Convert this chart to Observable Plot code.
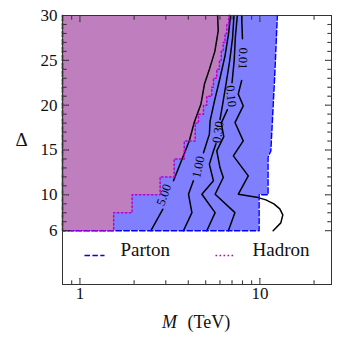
<!DOCTYPE html>
<html><head><meta charset="utf-8">
<script src="https://cdn.jsdelivr.net/npm/d3@7"></script>
<script src="https://cdn.jsdelivr.net/npm/@observablehq/plot@0.6"></script>
<style>
body{margin:0;background:#fff;}
#wrap{width:339px;height:346px;}
</style></head><body><div id="wrap"></div>
<script>
// ---- axis ticks ----
const xMajorTicks = [1, 10];
const xMinorTicks = [0.8, 0.9, 2, 3, 4, 5, 6, 7, 8, 9, 20];
const yMajorTicks = [6, 10, 15, 20, 25, 30];
const yMinorTicks = [7,8,9,11,12,13,14,16,17,18,19,21,22,23,24,26,27,28,29];

// ---- Parton region: right edge (M in TeV, Delta) ----
const partonEdgeM = [9.9, 9.9, 11.1, 11.1, 11.5, 12.1, 12.5];
const partonEdgeD = [6, 10, 10, 14.2, 14.9, 23.5, 30];

// ---- Hadron region: step edge, band lower Delta -> edge M ----
const hadronBandD = [6, 8, 10, 12, 14, 16, 18, 19, 20, 21, 22, 23, 24, 25, 26, 27, 28, 29];
const hadronBandM = [1.54, 1.95, 2.79, 3.34, 3.8, 4.37, 4.56, 4.86, 5.07, 5.4, 5.52, 5.76, 5.96, 6.1, 6.25, 6.4, 6.55, 6.7];
const hadronTopM = 6.82;

// ---- contour lines (NaN = gap for inline label) ----
const c500M = [2.48, 2.89, NaN, 3.31, 4.05, 4.32, 4.7, 4.92, 5.26, 5.62, 5.87, 5.82];
const c500D = [6, 8.4, NaN, 11.56, 16.0, 18.1, 20.1, 22.35, 24.1, 26, 28.3, 30];
const c100M = [3.76, 4.19, 4.01, 4.27, NaN, 4.86, 5.24, 5.29, 5.6, 6.0, 6.4, 6.7, 6.87];
const c100D = [6, 8.02, 10.07, 11.56, NaN, 14.7, 16.77, 18.25, 20.5, 23, 25.5, 28, 30];
const c030M = [5.07, 5.64, 4.76, 5.52, 5.24, 5.52, 5.7, NaN, 6.0, 6.2, 6.5, 6.8, 7.05, 7.18];
const c030D = [6, 8.02, 10.07, 11.56, 13.4, 14.9, 15.7, NaN, 18.4, 20, 22.5, 25, 27.5, 30];
const c010M = [6.68, 7.27, 5.64, 6.26, 6.0, 5.76, 6.3, 6.1, 6.6, NaN, 7.0, 7.2, 7.3, 7.49];
const c010D = [6, 8.02, 10.07, 11.93, 13.04, 14.9, 16.5, 18, 19.5, NaN, 22.5, 25, 27.5, 30];
const c001M = [11.85, 13.07, 13.41, 12.9, 11.96, 10.79, 9.79, 7.59, 8.62, 7.12, 8.08, 7.27, 8.08, 7.58, 7.92, NaN, 8.0, 7.92];
const c001D = [6, 6.87, 7.76, 8.43, 8.99, 9.44, 9.69, 10.07, 12.12, 14.35, 16.02, 18.06, 19.93, 21.23, 22.75, NaN, 27.4, 30];

const contourLabels = ["5.00", "1.00", "0.30", "0.10", "0.01"];
const labelM = [2.93, 4.55, 5.86, 6.91, 8.05];
const labelD = [10.0, 13.1, 17.0, 21.0, 25.2];
const labelAngle = [-70, -78, -82, 84, 92];

// ---- build tables ----
const xMin = 0.8;
const partonRows = partonEdgeM.map((m, i) => ({M: m, D: partonEdgeD[i]}));
const partonOutline = [{M: xMin, D: 30}, {M: xMin, D: 6}, ...partonRows];
const hadronRows = [];
hadronBandD.forEach((d, i) => {
  const top = i + 1 < hadronBandD.length ? hadronBandD[i + 1] : 30;
  hadronRows.push({M: hadronBandM[i], D: d});
  hadronRows.push({M: hadronBandM[i], D: top});
});
hadronRows.push({M: hadronTopM, D: 30});
const hadronOutline = [{M: xMin, D: 30}, {M: xMin, D: 6}, ...hadronRows];

const contours = [];
[[c500M, c500D, "5.00"], [c100M, c100D, "1.00"], [c030M, c030D, "0.30"], [c010M, c010D, "0.10"], [c001M, c001D, "0.01"]]
  .forEach(([ms, ds, lev]) => ms.forEach((m, i) => contours.push({M: m, D: ds[i], level: lev})));
const labels = contourLabels.map((t, i) => ({t, M: labelM[i], D: labelD[i], a: labelAngle[i]}));

const serif = "'Liberation Serif', 'Times New Roman', serif";
const axisColor = "#333";
const tick = (data, opts) => Plot.vector(data, {anchor: "start", r: 0, stroke: axisColor, strokeWidth: 1, ...opts});

const chart = Plot.plot({
  width: 339, height: 346,
  marginLeft: 62, marginRight: 8, marginTop: 15, marginBottom: 62,
  x: {type: "log", domain: [xMin, 25], axis: null},
  y: {domain: [0, 30], axis: null},
  style: {fontFamily: serif, background: "white", color: "#222"},
  marks: [
    Plot.areaX(partonRows, {y: "D", x1: xMin, x2: "M", fill: "#8080ff", curve: "linear"}),
    Plot.areaX(hadronRows, {y: "D", x1: xMin, x2: "M", fill: "#bf7fbf", curve: "linear"}),
    Plot.line(contours, {x: "M", y: "D", z: "level", stroke: "black", strokeWidth: 1.5, curve: "linear"}),
    Plot.text(labels, {x: "M", y: "D", text: "t", rotate: "a", fontSize: 12.5, fill: "black", fontFamily: serif}),
    Plot.line(partonOutline, {x: "M", y: "D", stroke: "#0000ff", strokeWidth: 1.5, strokeDasharray: "5.5,2.4"}),
    Plot.line(hadronOutline, {x: "M", y: "D", stroke: "#bf00bf", strokeWidth: 1.5, strokeDasharray: "1.5,2.5"}),
    Plot.frame({stroke: axisColor, strokeWidth: 1}),
    // ticks (inward, all four sides)
    tick(xMajorTicks, {x: d => d, frameAnchor: "bottom", rotate: 0, length: 6}),
    tick(xMinorTicks, {x: d => d, frameAnchor: "bottom", rotate: 0, length: 3.5}),
    tick(xMajorTicks, {x: d => d, frameAnchor: "top", rotate: 180, length: 6}),
    tick(xMinorTicks, {x: d => d, frameAnchor: "top", rotate: 180, length: 3.5}),
    tick(yMajorTicks, {y: d => d, frameAnchor: "left", rotate: 90, length: 6}),
    tick(yMinorTicks, {y: d => d, frameAnchor: "left", rotate: 90, length: 3.5}),
    tick(yMajorTicks, {y: d => d, frameAnchor: "right", rotate: -90, length: 6}),
    tick(yMinorTicks, {y: d => d, frameAnchor: "right", rotate: -90, length: 3.5}),
    // tick labels
    Plot.text(xMajorTicks, {x: d => d, frameAnchor: "bottom", dy: 14, text: d => String(d), fontSize: 17, fill: "#111", fontFamily: serif}),
    Plot.text(yMajorTicks, {y: d => d, frameAnchor: "left", dx: -5, textAnchor: "end", text: d => String(d), fontSize: 17, fill: "#111", fontFamily: serif}),
    // axis labels
    Plot.text(["Δ"], {frameAnchor: "left", dx: -47, dy: -10, fontSize: 19, fill: "#111", fontFamily: serif}),
    Plot.text(["M"], {frameAnchor: "bottom", dx: -20, dy: 43, textAnchor: "end", fontStyle: "italic", fontSize: 18, fill: "#111", fontFamily: serif}),
    Plot.text(["(TeV)"], {frameAnchor: "bottom", dx: -9.5, dy: 43, textAnchor: "start", fontSize: 18, fill: "#111", fontFamily: serif}),
    // legend
    tick([0], {frameAnchor: "bottom-left", dx: 22, dy: -29, rotate: 90, length: 20, stroke: "#0000ff", strokeWidth: 1.5, strokeDasharray: "5.5,2.4", strokeLinecap: "butt"}),
    Plot.text(["Parton"], {frameAnchor: "bottom-left", dx: 58, dy: -29, textAnchor: "start", fontSize: 19, fill: "#111", fontFamily: serif}),
    tick([0], {frameAnchor: "bottom-left", dx: 153, dy: -29, rotate: 90, length: 20, stroke: "#bf00bf", strokeWidth: 1.5, strokeDasharray: "1.5,2.5", strokeLinecap: "butt"}),
    Plot.text(["Hadron"], {frameAnchor: "bottom-left", dx: 190, dy: -29, textAnchor: "start", fontSize: 19, fill: "#111", fontFamily: serif})
  ]
});
document.getElementById("wrap").appendChild(chart);
</script>
</body></html>
